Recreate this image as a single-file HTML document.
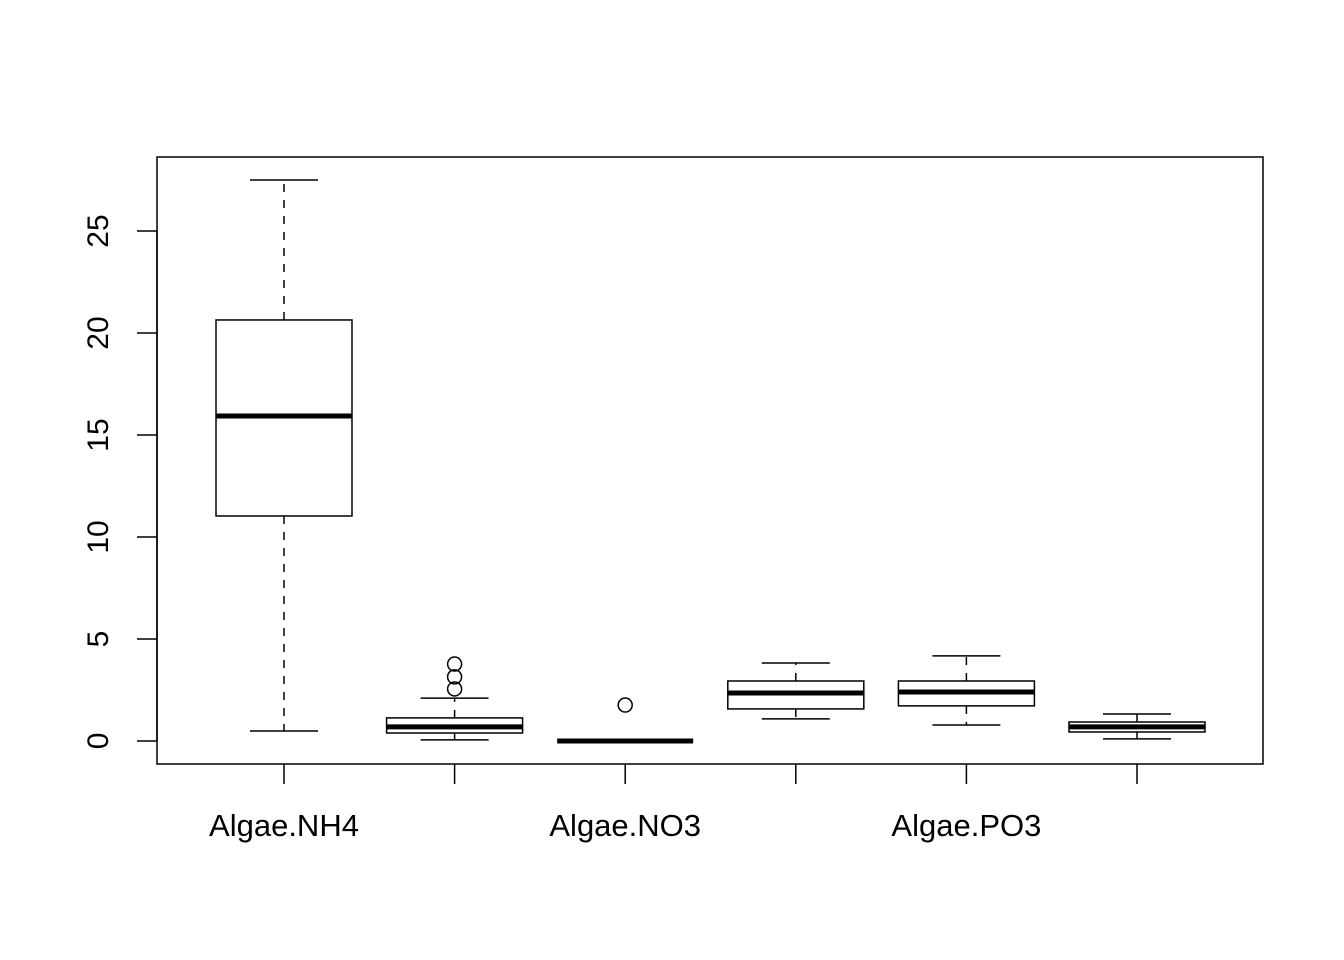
<!DOCTYPE html>
<html><head><meta charset="utf-8"><style>
html,body{margin:0;padding:0;background:#fff}
svg{display:block;font-family:"Liberation Sans",Arial,sans-serif}
</style></head><body>
<svg id="chart" width="1344" height="960" viewBox="0 0 1344 960" xmlns="http://www.w3.org/2000/svg">
<rect x="157" y="157" width="1106" height="607" fill="none" stroke="#000" stroke-width="1.5"/>
<g id="marks"></g>
</svg>
<script>
const categories = ["Algae.NH4","","Algae.NO3","","Algae.PO3",""];
const whiskerLow = [0.49,0.05,0,1.08,0.78,0.1];
const q1 = [11.03,0.39,0,1.57,1.72,0.44];
const medians = [15.93,0.69,0,2.35,2.4,0.69];
const q3 = [20.64,1.13,0,2.94,2.94,0.93];
const whiskerHigh = [27.5,2.1,0,3.82,4.17,1.32];
const outliers = [[],[3.77,3.14,2.55],[1.76],[],[],[]];
const yTicks = [0,5,10,15,20,25];

const NS="http://www.w3.org/2000/svg";
const g=document.getElementById('marks');
const yMin=-1.13,yMax=28.63,yTop=157,yBot=764;
const y=v=>yBot-(v-yMin)/(yMax-yMin)*(yBot-yTop);
const x=i=>284+i*170.6;
function el(t,a,n){const e=document.createElementNS(NS,t);for(const k in a)e.setAttribute(k,a[k]);


g.appendChild(e);return e;}
const S={stroke:'#000','stroke-width':1.5,fill:'none'};
categories.forEach((c,i)=>{
  const cx=x(i);
  el('line',{...S,x1:cx,x2:cx,y1:y(q3[i]),y2:y(whiskerHigh[i]),'stroke-dasharray':'8,8'},'upper-whisker');
  el('line',{...S,x1:cx,x2:cx,y1:y(q1[i]),y2:y(whiskerLow[i]),'stroke-dasharray':'8,8'},'lower-whisker');
  el('line',{...S,x1:cx-34,x2:cx+34,y1:y(whiskerHigh[i]),y2:y(whiskerHigh[i])},'upper-cap');
  el('line',{...S,x1:cx-34,x2:cx+34,y1:y(whiskerLow[i]),y2:y(whiskerLow[i])},'lower-cap');
  el('rect',{...S,fill:'#fff',x:cx-68,width:136,y:y(q3[i]),height:Math.max(0,y(q1[i])-y(q3[i]))},'box');
  el('line',{stroke:'#000','stroke-width':5,x1:cx-68,x2:cx+68,y1:y(medians[i]),y2:y(medians[i])},'median-line');
  outliers[i].forEach(o=>el('circle',{...S,cx:cx,cy:y(o),r:7},'outlier-point'));
  el('line',{...S,x1:cx,x2:cx,y1:764,y2:784},'x-tick');
  if(c){const t=el('text',{x:cx,y:836,'font-size':31,'text-anchor':'middle'},'x-tick-label');t.textContent=c;}
});
yTicks.forEach(v=>{
  const yy=y(v);
  el('line',{...S,x1:157,x2:137,y1:yy,y2:yy},'y-tick');
  const t=el('text',{x:108,y:yy,'font-size':30,'text-anchor':'middle',transform:`rotate(-90 108 ${yy})`},'y-tick-label');
  t.textContent=v;
});
el('line',{...S,x1:157,x2:157,y1:y(0),y2:y(25)},'y-axis-line');
</script>
</body></html>
